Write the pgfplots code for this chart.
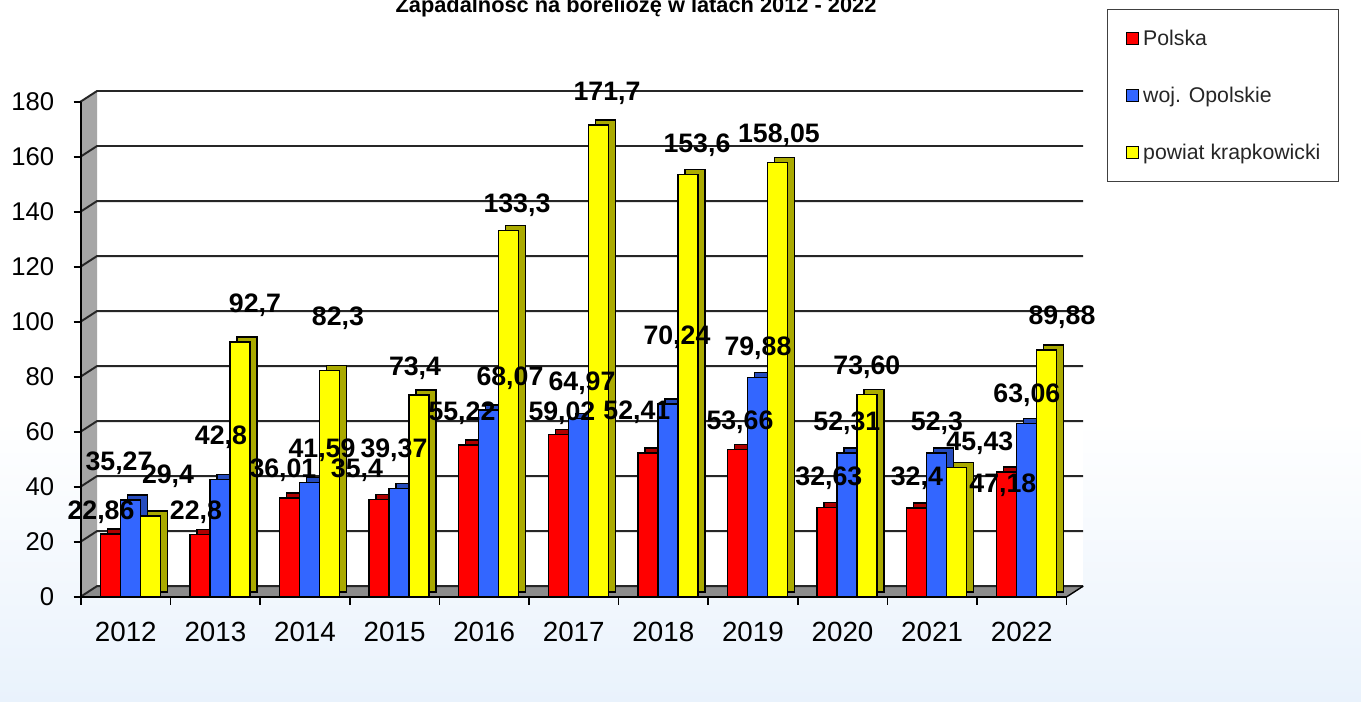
\documentclass[border=0pt]{standalone}
\usepackage{fontspec}
\setmainfont{Liberation Sans}
\usepackage{pgfplots}
\usepackage{pgfplotstable}
\pgfplotsset{compat=1.18}

\definecolor{pRed}{RGB}{255,0,0}
\definecolor{pRedS}{RGB}{175,0,0}
\definecolor{pBlue}{RGB}{51,102,255}
\definecolor{pBlueS}{RGB}{38,76,190}
\definecolor{pYel}{RGB}{255,255,0}
\definecolor{pYelS}{RGB}{170,170,0}
\definecolor{bgBlue}{RGB}{233,242,252}
\definecolor{wallGray}{RGB}{166,166,166}
\definecolor{floorGray}{RGB}{140,140,140}

% values per year
\pgfplotstableread{
x  pl     op     kr
0  22.86  35.27  29.4
1  22.8   42.8   92.7
2  36.01  41.59  82.3
3  35.4   39.37  73.4
4  55.22  68.07  133.3
5  59.02  64.97  171.7
6  52.41  70.24  153.6
7  53.66  79.88  158.05
8  32.63  52.31  73.60
9  32.4   52.3   47.18
10 45.43  63.06  89.88
}\data

% data labels, where the original chart put them
\pgfplotstableread{
x      y      lab
-0.277 30.9   22,86
-0.076 48.7   35,27
0.471  44.0   29,4
0.783  30.9   22,8
1.062  58.2   42,8
1.442  106.2  92,7
1.754  46.2   36,01
2.190  53.5   41,59
2.368  101.5  82,3
2.580  46.2   35,4
2.993  53.5   39,37
3.228  83.3   73,4
3.752  66.9   55,22
4.288  79.6   68,07
4.366  142.5  133,3
4.868  66.9   59,02
5.092  77.8   64,97
5.371  183.3  171,7
5.705  67.3   52,41
6.152  94.5   70,24
6.375  164.4  153,6
6.855  63.6   53,66
7.056  90.5   79,88
7.290  168.0  158,05
7.848  43.3   32,63
8.049  63.3   52,31
8.272  83.6   73,60
8.830  43.3   32,4
9.054  63.3   52,3
9.533  56.0   45,43
9.790  40.7   47,18
10.058 73.5   63,06
10.449 101.8  89,88
}\labels

\pgfplotsset{
  sq/.style={legend image code/.code={\draw[##1, draw=black, line width=0.9pt] (0cm,-0.12cm) rectangle (0.24cm,0.12cm);}},
  front/.style={ybar, bar width=0.4cm, draw=black, line width=0.8pt},
  back/.style={ybar, bar width=0.4cm, draw=black, line width=0.8pt, xshift=0.14cm, yshift=0.1cm, forget plot}
}

\begin{document}
\begin{tikzpicture}
\useasboundingbox (0,0) rectangle (27.22,-14.04);

\begin{scope}[x=0.02cm, y=-0.02cm]
  \fill[white] (0,0) rectangle (1361,420);
  \shade[top color=white, bottom color=bgBlue] (0,420) rectangle (1361,702);
  \fill[white] (97,91) rectangle (1083,586);
  \fill[wallGray] (80,102) -- (97,91) -- (97,586) -- (80,597) -- cycle;
  \fill[floorGray] (80,597) -- (97,586) -- (1083,586) -- (1066,597) -- cycle;
  \foreach \v in {0,20,...,180} {
    \draw[black!85, line width=1.1pt] (80,{597-2.75*\v}) -- (97,{586-2.75*\v}) -- (1083,{586-2.75*\v});
  }
  \draw[black, line width=0.8pt] (1066,597) -- (1083,586);
\end{scope}

\node[font=\bfseries\fontsize{12.4}{14}\selectfont, anchor=base] at (12.72,-0.25)
  {Zapadalność  na boreliozę  w latach  2012 - 2022};

\begin{axis}[
  at={(1.62cm,-11.94cm)}, anchor=south west,
  scale only axis, width=19.71cm, height=9.9cm,
  xmin=-0.5, xmax=10.5, ymin=0, ymax=180,
  clip=false,
  axis x line*=bottom, axis y line*=left,
  axis line style={line width=0.9pt, black},
  tick style={line width=0.9pt, black},
  tick align=outside, major tick length=0.15cm,
  ytick={0,20,...,180},
  xtick={-0.5,0.5,...,10.5},
  xticklabels={,,,,,,,,,,,,},
  extra x ticks={0,1,...,10},
  extra x tick labels={2012,2013,2014,2015,2016,2017,2018,2019,2020,2021,2022},
  extra x tick style={major tick length=0pt},
  /pgf/number format/assume math mode=true,
  yticklabel style={font=\fontsize{14.6}{16}\selectfont, inner sep=0pt, xshift=-0.38cm},
  xticklabel style={font=\fontsize{15.8}{18}\selectfont, inner sep=0pt, yshift=-0.5cm},
  legend cell align=left,
  legend style={at={(axis description cs:1.041,1.188)}, anchor=north west,
    draw=black!75, line width=0.8pt, fill=white, font=\fontsize{12.1}{14}\selectfont,
    text=black!85,
    inner xsep=0.36cm, inner ysep=0.3cm, row sep=0.58cm, column sep=0.08cm,
    nodes={inner sep=0pt, minimum height=0.56cm}},
]
\addplot[back, fill=pRedS, bar shift=-0.31cm] table[x=x, y=pl] {\data};
\addplot[front, fill=pRed, bar shift=-0.31cm, sq] table[x=x, y=pl] {\data};
\addlegendentry{Polska}
\addplot[back, fill=pBlueS, bar shift=0.09cm] table[x=x, y=op] {\data};
\addplot[front, fill=pBlue, bar shift=0.09cm, sq] table[x=x, y=op] {\data};
\addlegendentry{woj. Opolskie}
\addplot[back, fill=pYelS, bar shift=0.49cm] table[x=x, y=kr] {\data};
\addplot[front, fill=pYel, bar shift=0.49cm, sq] table[x=x, y=kr] {\data};
\addlegendentry{powiat krapkowicki}

\addplot[draw=none, mark=none, forget plot,
  nodes near coords, point meta=explicit symbolic,
  nodes near coords style={font=\bfseries\fontsize{15.2}{17}\selectfont, anchor=center, inner sep=0pt, text=black}]
  table[x=x, y=y, meta=lab] {\labels};
\end{axis}
\end{tikzpicture}
\end{document}
